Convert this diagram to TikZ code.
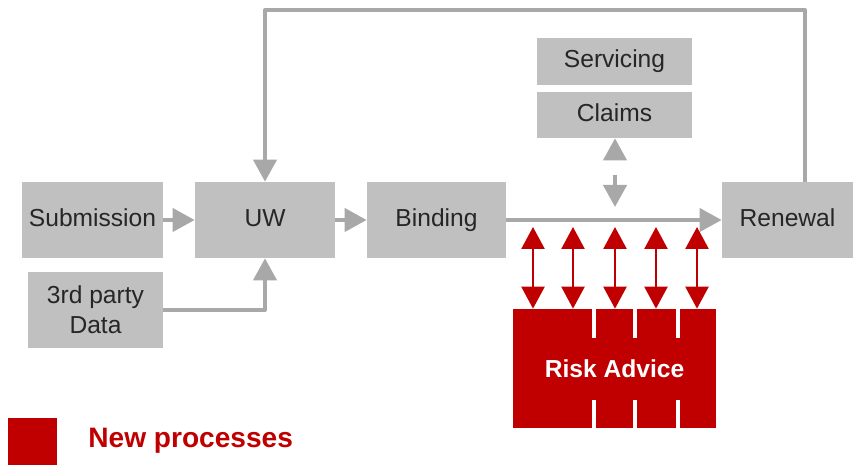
\documentclass[tikz,border=0pt]{standalone}
\usepackage{fontspec}
\setmainfont{Liberation Sans}
\usetikzlibrary{arrows.meta}
\definecolor{boxgray}{HTML}{C0C0C0}
\definecolor{linkgray}{HTML}{A8A8A8}
\definecolor{riskred}{HTML}{C00000}
\tikzset{
  procbox/.style={fill=boxgray, inner sep=0pt, text=black!85, align=center, font=\fontsize{14}{17}\selectfont},
  onerow/.style={text height=0.72em, text depth=0pt},
  graylink/.style={draw=linkgray, line width=2.3pt, -{Triangle[width=0.46cm, length=0.44cm]}},
  redlink/.style={draw=riskred, line width=1.4pt, {Triangle[width=0.46cm, length=0.44cm]}-{Triangle[width=0.46cm, length=0.44cm]}}
}
\begin{document}
\begin{tikzpicture}[x=0.02cm, y=-0.02cm, line join=round]
    \useasboundingbox (0,0) rectangle (855,465); % 1 unit = 1 px
    % process boxes
    \node[procbox, onerow, minimum width=2.82cm, minimum height=1.54cm] (sub) at (92.5,220) {Submission};
    \node[procbox, onerow, minimum width=2.80cm, minimum height=1.52cm] (uw) at (265,220) {UW};
    \node[procbox, onerow, minimum width=2.78cm, minimum height=1.52cm] (bind) at (436.5,220) {Binding};
    \node[procbox, onerow, minimum width=2.62cm, minimum height=1.52cm] (renew) at (787.5,220) {Renewal};
    \node[procbox, minimum width=2.70cm, minimum height=1.52cm] (third) at (95.5,310) {3rd party\\Data};
    \node[procbox, onerow, minimum width=3.10cm, minimum height=0.94cm] (serv) at (614.5,61.5) {Servicing};
    \node[procbox, onerow, minimum width=3.10cm, minimum height=0.92cm] (claims) at (614.5,115) {Claims};
    \node[fill=riskred, inner sep=0pt, minimum width=4.06cm, minimum height=2.38cm, text=white, font=\fontsize{14}{17}\selectfont\bfseries] (risk) at (614.5,368.5) {Risk Advice};
    % notches in the risk box
    \foreach \x in {594,635,678} {
        \coordinate (n\x) at (\x,0);
        \draw[white, line width=2.2pt] (n\x |- risk.north) -- ++(0,29);
        \draw[white, line width=2.2pt] (n\x |- risk.south) -- ++(0,-28);
    }
    % gray flow
    \draw[graylink] (sub) -- (uw);
    \draw[graylink] (uw) -- (bind);
    \draw[graylink] (bind) -- (renew);
    \draw[graylink] (third.east) -| (uw.south);
    \coordinate (loopR) at (805,10);
    \draw[graylink] (loopR |- renew.north) -- (loopR) -| (uw.north);
    \coordinate (clmEnd) at (615,207);
    \draw[graylink, {Triangle[width=0.46cm, length=0.44cm]}-{Triangle[width=0.46cm, length=0.44cm]}, dash pattern=on 0.22cm off 0.4cm] (clmEnd) -- (clmEnd |- claims.south);
    % risk advice links
    \foreach \x in {533,573,615,656,697} {
        \coordinate (t\x) at (\x,227);
        \draw[redlink] (t\x) -- (t\x |- risk.north);
    }
    % legend
    \node[fill=riskred, inner sep=0pt, minimum width=0.98cm, minimum height=0.94cm] (key) at (32.5,441.5) {};
    \node[anchor=west, text=riskred, font=\fontsize{16}{19}\selectfont\bfseries, inner sep=0pt] (keytxt) at (88,441) {New processes};
\end{tikzpicture}
\end{document}
